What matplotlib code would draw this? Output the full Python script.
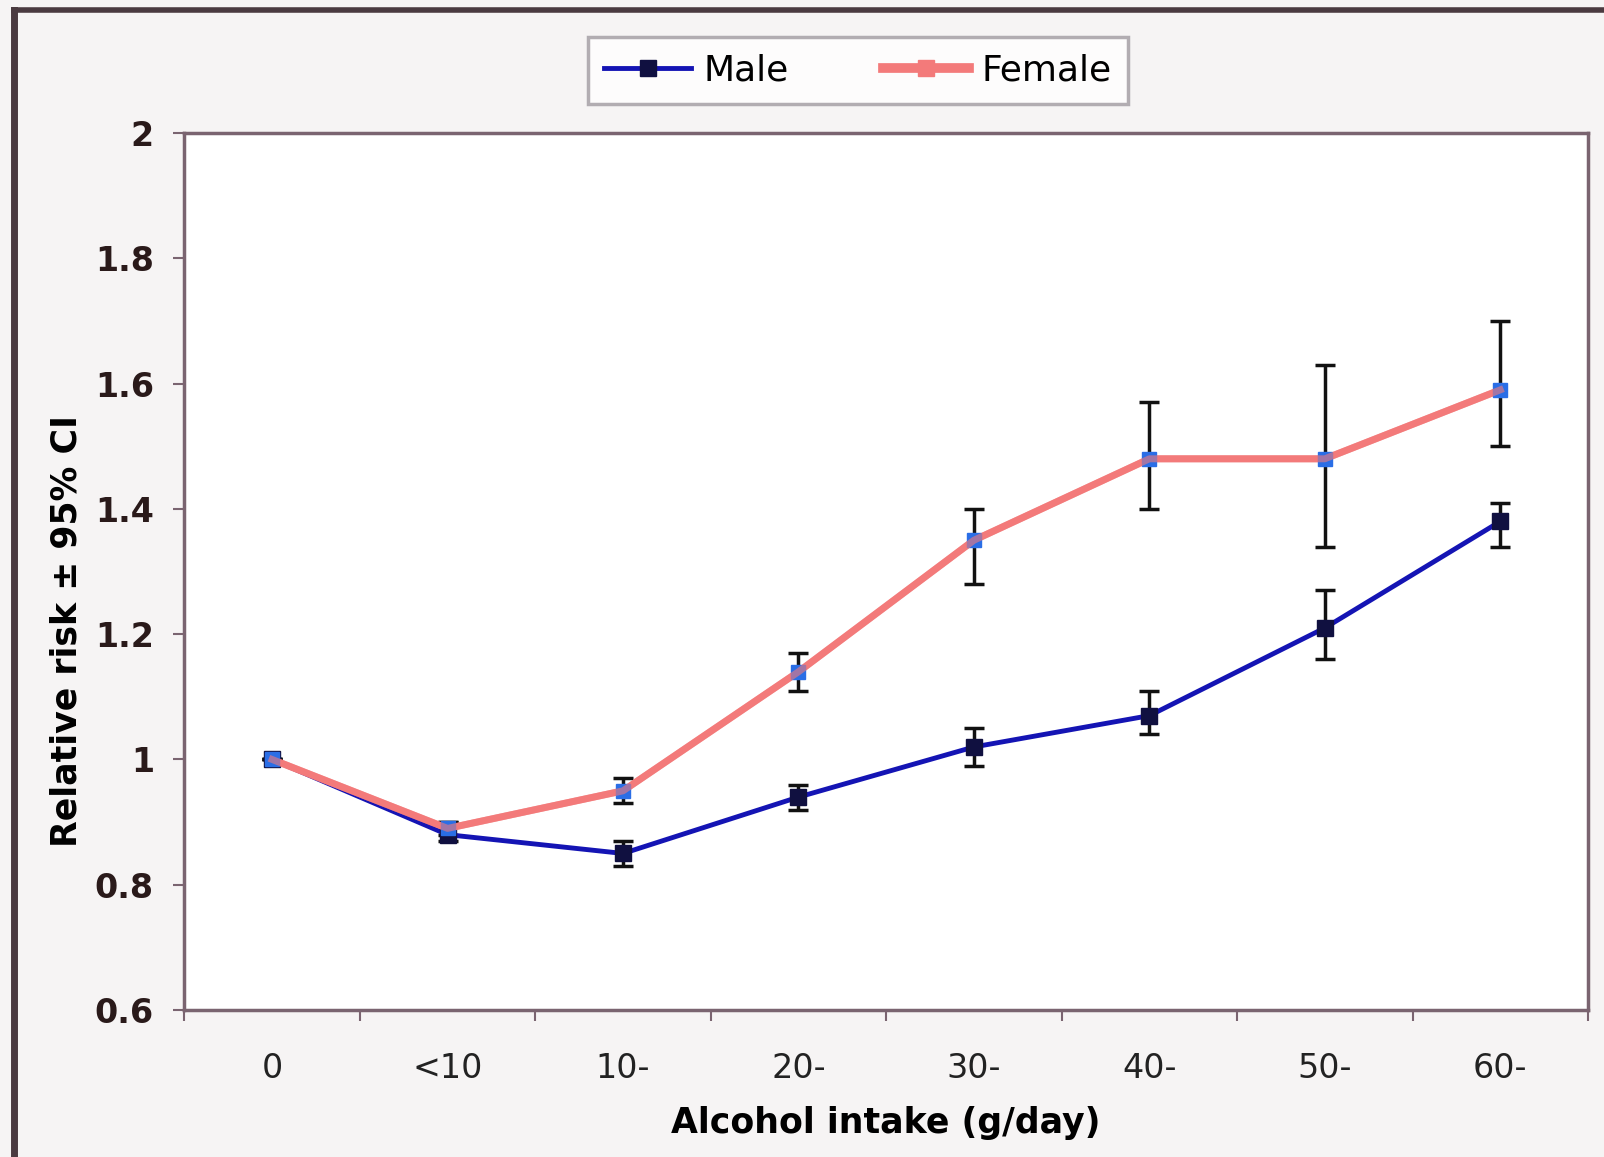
import matplotlib
matplotlib.use("Agg")
import matplotlib.pyplot as plt
from matplotlib.lines import Line2D

# alcohol intake categories (g/day)
categories = ['0', '<10', '10-', '20-', '30-', '40-', '50-', '60-']

# relative risk with 95% CI
male_rr = [1.00, 0.88, 0.85, 0.94, 1.02, 1.07, 1.21, 1.38]
male_lo = [1.00, 0.87, 0.83, 0.92, 0.99, 1.04, 1.16, 1.34]
male_hi = [1.00, 0.90, 0.87, 0.96, 1.05, 1.11, 1.27, 1.41]

female_rr = [1.00, 0.89, 0.95, 1.14, 1.35, 1.48, 1.48, 1.59]
female_lo = [1.00, 0.88, 0.93, 1.11, 1.28, 1.40, 1.34, 1.50]
female_hi = [1.00, 0.90, 0.97, 1.17, 1.40, 1.57, 1.63, 1.70]

yticks = [0.6, 0.8, 1, 1.2, 1.4, 1.6, 1.8, 2]
ytick_labels = ['0.6', '0.8', '1', '1.2', '1.4', '1.6', '1.8', '2']

male_col = '#1414b4'
female_col = '#f37a7a'
frame_col = '#7a6470'

fig = plt.figure(figsize=(16.04, 11.57), dpi=100, facecolor='#f6f4f4')
ax = fig.add_axes([0.115, 0.127, 0.875, 0.758])
ax.set_facecolor('white')

x = list(range(len(categories)))

# error bars first (black, capped)
m_err = [[r - l for r, l in zip(male_rr, male_lo)],
         [h - r for r, h in zip(male_rr, male_hi)]]
f_err = [[r - l for r, l in zip(female_rr, female_lo)],
         [h - r for r, h in zip(female_rr, female_hi)]]
ax.errorbar(x, male_rr, yerr=m_err, fmt='none', ecolor='#111111',
            elinewidth=2.5, capsize=7, capthick=2.5, zorder=2)
ax.errorbar(x, female_rr, yerr=f_err, fmt='none', ecolor='#111111',
            elinewidth=2.5, capsize=7, capthick=2.5, zorder=2)

ax.plot(x, male_rr, color=male_col, lw=3.5, marker='s', ms=11,
        mfc='#101040', mec='#101040', zorder=3)
ax.plot(x, female_rr, color=female_col, lw=5, marker='s', ms=10,
        mfc='#2a6ee6', mec='#2a6ee6', zorder=4)
# soften the female line over its markers like the scan
ax.plot(x, female_rr, color=female_col, lw=5, alpha=0.6, zorder=4)

ax.set_xlim(-0.5, 7.5)
ax.set_ylim(0.6, 2.0)
ax.set_yticks(yticks)
ax.set_yticklabels(ytick_labels)
ax.set_xticks(x)
ax.set_xticklabels(categories)
ax.set_xticks([i + 0.5 for i in range(-1, 8)], minor=True)
ax.tick_params(axis='x', which='major', length=0, pad=30, labelsize=24,
               labelcolor='#222222')
ax.tick_params(axis='x', which='minor', length=8, width=1.5, color=frame_col,
               direction='out')
ax.tick_params(axis='y', length=8, width=1.5, color=frame_col, pad=14,
               labelsize=24, labelcolor='#2a1a1a')
for lab in ax.get_yticklabels():
    lab.set_fontweight('bold')

for s in ax.spines.values():
    s.set_color(frame_col)
    s.set_linewidth(2.5)

ax.set_ylabel('Relative risk ± 95% CI', fontsize=25, fontweight='bold')
ax.yaxis.set_label_coords(-0.072, 0.432)
ax.set_xlabel('Alcohol intake (g/day)', fontsize=25, fontweight='bold',
              labelpad=15)

handles = [
    Line2D([], [], color=male_col, lw=3.5, marker='s', ms=11,
           mfc='#101040', mec='#101040'),
    Line2D([], [], color=female_col, lw=7, marker='s', ms=12,
           mfc=female_col, mec=female_col),
]
leg = fig.legend(handles, ['Male', 'Female'], loc='center',
                 bbox_to_anchor=(0.535, 0.939), ncol=2, fontsize=26,
                 frameon=True, fancybox=False, edgecolor='#a09aa0',
                 handlelength=2.4, handletextpad=0.35, columnspacing=2.6,
                 borderpad=0.45)
leg.get_frame().set_linewidth(2.5)

# dark border of the scanned page (left and top)
fig.add_artist(Line2D([0.009, 0.009], [0.0, 0.991], color='#4a3a40',
                      lw=5, transform=fig.transFigure))
fig.add_artist(Line2D([0.009, 1.0], [0.991, 0.991], color='#4a3a40',
                      lw=4, transform=fig.transFigure))

fig.savefig('out.png', dpi=100, facecolor=fig.get_facecolor())
